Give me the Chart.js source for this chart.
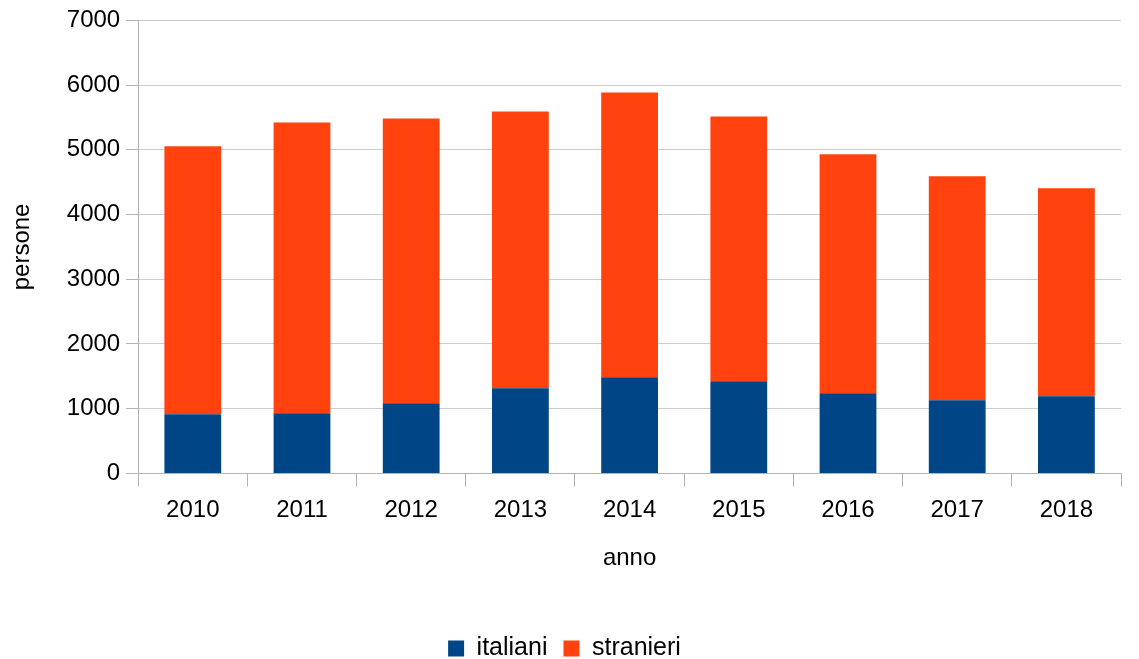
<!DOCTYPE html>
<html>
<head>
<meta charset="utf-8">
<script src="https://cdn.jsdelivr.net/npm/chart.js@4"></script>
<style>
  html, body { margin: 0; padding: 0; background: #ffffff; }
  #wrap { width: 1139px; height: 659px; }
</style>
</head>
<body>
<div id="wrap"><canvas id="grafico"></canvas></div>
<script>
const anni = ['2010', '2011', '2012', '2013', '2014', '2015', '2016', '2017', '2018'];
const italiani = [915, 931, 1085, 1315, 1485, 1423, 1238, 1131, 1192];
const stranieri = [4139, 4492, 4400, 4277, 4400, 4092, 3693, 3461, 3216];

const font = 'Liberation Sans, Arial, sans-serif';

const ctx = document.getElementById('grafico').getContext('2d');
new Chart(ctx, {
    type: 'bar',
    data: {
        labels: anni,
        datasets: [{
            label: 'italiani',
            data: italiani,
            backgroundColor: '#004586',
            borderWidth: 0
        }, {
            label: 'stranieri',
            data: stranieri,
            backgroundColor: '#ff420e',
            borderWidth: 0
        }]
    },
    options: {
        responsive: true,
        maintainAspectRatio: false,
        animation: false,
        datasets: {
            bar: { barPercentage: 0.52, categoryPercentage: 1.0 }
        },
        layout: { padding: { top: 8, right: 18, left: 8, bottom: -12 } },
        plugins: {
            legend: {
                position: 'bottom',
                labels: {
                    color: '#000',
                    boxWidth: 16,
                    boxHeight: 16,
                    padding: 16,
                    font: { family: font, size: 25 }
                }
            },
            tooltip: { enabled: false }
        },
        scales: {
            x: {
                stacked: true,
                border: { color: '#b3b3b3', width: 1 },
                grid: {
                    offset: true,
                    drawOnChartArea: false,
                    drawTicks: true,
                    tickLength: 13,
                    color: '#b3b3b3',
                    tickColor: '#b3b3b3'
                },
                ticks: {
                    color: '#000',
                    padding: 10,
                    font: { family: font, size: 24 }
                },
                title: {
                    display: true,
                    text: 'anno',
                    color: '#000',
                    padding: { top: 9, bottom: 47 },
                    font: { family: font, size: 24 }
                }
            },
            y: {
                stacked: true,
                min: 0,
                max: 7000,
                border: { color: '#b3b3b3', width: 1 },
                grid: {
                    color: '#cccccc',
                    tickColor: '#b3b3b3',
                    drawTicks: true,
                    tickLength: 12
                },
                ticks: {
                    stepSize: 1000,
                    color: '#000',
                    padding: 6,
                    font: { family: font, size: 24 },
                    callback: v => String(v)
                },
                title: {
                    display: true,
                    text: 'persone',
                    color: '#000',
                    padding: { top: 0, bottom: 24 },
                    font: { family: font, size: 24 }
                }
            }
        }
    }
});
</script>
</body>
</html>
